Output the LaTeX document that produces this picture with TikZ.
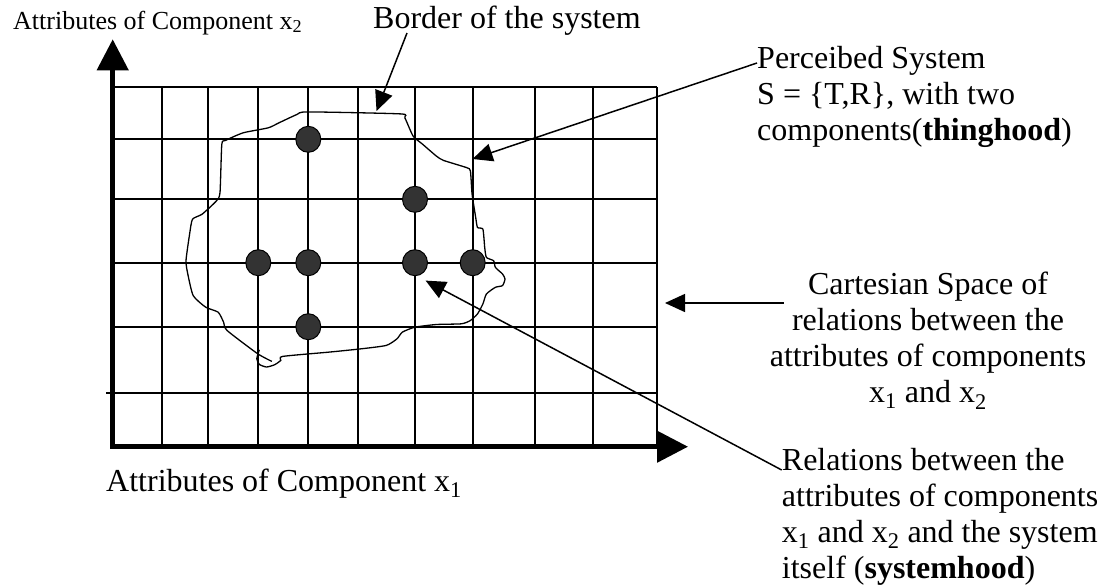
\documentclass[tikz,border=0pt]{standalone}
\usepackage{fontspec}
\setmainfont{Liberation Serif}
\usetikzlibrary{arrows.meta,shapes.geometric}
\begin{document}
\begin{tikzpicture}[x=1pt,y=-1pt,
  gridline/.style={line width=1.9pt},
  dot/.style={ellipse,draw=black,line width=1pt,fill=black!80,minimum width=25pt,minimum height=26pt,inner sep=0pt},
  callout/.style={line width=1.5pt,-{Triangle[length=20pt,width=18pt]}},
  txt/.style={inner sep=0pt,font=\fontsize{32}{36}\selectfont}]
\useasboundingbox (0,0) rectangle (1102,587);

\foreach \x in {161.7,208.3,258.3,308.3,358.3,415,472.7,535,592.7,656.7}
  \draw[gridline] (\x,87.3) -- (\x,446.7);
\foreach \y in {87.3,139.3,199.3,262.7,326.7}
  \draw[gridline] (112.7,\y) -- (656.7,\y);
\draw[gridline] (106,393.3) -- (656.7,393.3);

\coordinate (origin) at (112.7,446.7);
\coordinate (ytip) at (112.7,39.3);
\coordinate (xtip) at (688,446.7);
\draw[line width=4.5pt,{Triangle[length=31pt,width=31pt]}-{Triangle[length=31pt,width=31pt]}] (ytip) -- (origin) -- (xtip);

\draw[line width=1.3pt] plot[smooth,tension=0.35] coordinates {
  (271.9,361.4) (257.6,353.7) (227.1,330.5) (223.6,322.2) (218.2,312.2)
  (205.7,307.2) (193.2,295.6) (187.8,274) (186,260.7) (189.6,234.1)
  (192.5,219.2) (202.1,214.2) (216.4,200.9) (220,192.6) (221.8,144.4)
  (225.4,140.5) (243.2,132.8) (268.3,127.8) (279,122.8) (296.9,114.5)
  (307.6,111.9) (400.6,113.9) (404.9,117.9) (413.1,136.1) (422.1,143.8)
  (436.4,156.1) (443.5,160.4) (466.8,167.7) (470.4,171) (472.1,194.3)
  (475.7,217.5) (477.5,227.5) (482.9,229.2) (484.7,247.4) (486.4,257.4)
  (493.6,260.7) (495.4,267.4) (502.5,274) (505,279) (502.5,285.6)
  (495.4,287.3) (486.4,294) (482.9,303.9) (477.5,313.9) (470.4,320.5)
  (461.4,323.8) (436.4,324.5) (414.9,327.2) (402.4,332.1) (397,338.8)
  (386.3,345.4) (361.3,348.8) (329.1,352.1) (282.6,356.4) (280.8,360.4)
  (274.7,364.7) (266.5,367) (259.3,364.4) (256.8,358.7) (259.3,349.8)};

\foreach \x/\y/\n in {308.3/139.3/a,415/199.3/b,258.3/262.7/c,308.3/262.7/d,415/262.7/e,472.7/262.7/f,308.3/326.7/g}
  \node[dot] (dot\n) at (\x,\y) {};

\node[txt,anchor=base west,font=\fontsize{26}{30}\selectfont] (ylabel) at (13,29) {Attributes of Component x\textsubscript{2}};
\node[txt,anchor=base west] (xlabel) at (106,491) {Attributes of Component x\textsubscript{1}};
\node[txt,anchor=base west] (border) at (373,28) {Border of the system};
\node[txt,anchor=north west,align=left] (percsys) at (757,46) {Perceibed System\\S = \{T,R\}, with two\\components(\textbf{thinghood})};
\node[txt,anchor=north,align=center] (cartspace) at (928,272) {Cartesian Space of\\relations between the\\attributes of components\\x\textsubscript{1} and x\textsubscript{2}};
\node[txt,anchor=north west,align=left] (relations) at (781.7,448) {Relations between the\\attributes of components\\x\textsubscript{1} and x\textsubscript{2} and the system\\itself (\textbf{systemhood})};

\coordinate (bordertip) at (376.5,111);
\coordinate (perctip) at (472.5,159);
\coordinate (carttip) at (665,303);
\coordinate (reltip) at (425.6,280.6);

\draw[callout] ([shift={(34pt,-5pt)}]border.base west) -- (bordertip);
\draw[callout] ([yshift=-17pt]percsys.north west) -- (perctip);
\draw[callout] ([shift={(14pt,-31pt)}]cartspace.north west) -- (carttip);
\draw[callout] ([yshift=-22pt]relations.north west) -- (reltip);
\end{tikzpicture}
\end{document}
